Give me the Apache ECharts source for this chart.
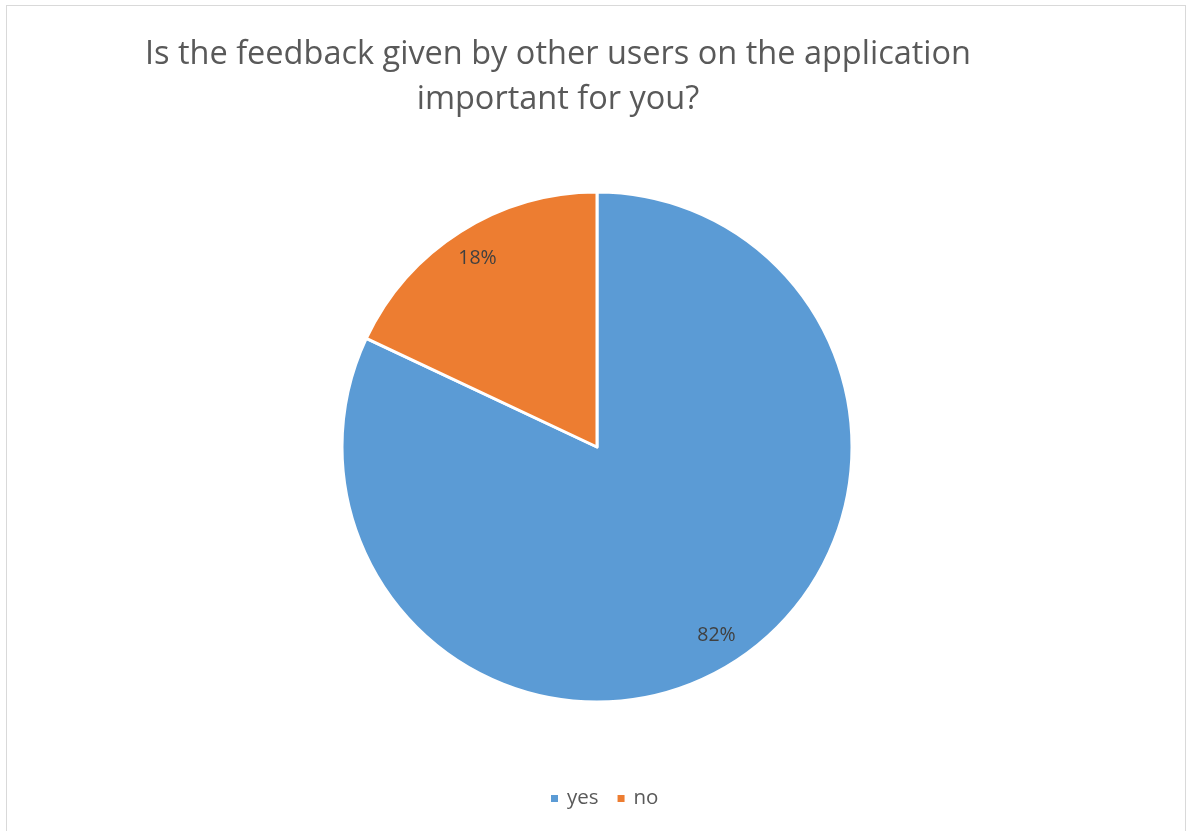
<!DOCTYPE html>
<html>
<head>
<meta charset="utf-8">
<script src="https://cdn.jsdelivr.net/npm/echarts@6/dist/echarts.min.js"></script>
<style>
  html, body { margin: 0; padding: 0; background: #fff; }
  #frame { position: absolute; left: 6px; top: 5px; width: 1180px; height: 840px;
           border: 1px solid #d9d9d9; box-sizing: border-box; }
  #chart { position: absolute; left: 0; top: 0; width: 1189px; height: 831px; }
</style>
</head>
<body>
<div id="frame"></div>
<div id="chart"></div>
<script>
// Survey answers
const categories = ['yes', 'no'];
const shares = [82, 18];
const colors = ['#5b9bd5', '#ed7d31'];
const titleText = 'Is the feedback given by other users on the application\nimportant for you?';

const pieData = categories.map((name, i) => ({ name, value: shares[i] }));

const chart = echarts.init(document.getElementById('chart'), null, { renderer: 'canvas' });
chart.setOption({
  animation: false,
  color: colors,
  title: {
    text: titleText,
    left: 553,
    top: 27,
    textAlign: 'center',
    textStyle: {
      fontFamily: 'Open Sans',
      fontSize: 32.5,
      fontWeight: 'normal',
      color: '#595959',
      lineHeight: 45
    }
  },
  legend: {
    data: categories,
    left: 544,
    top: 783,
    padding: 5,
    itemWidth: 9,
    itemHeight: 9,
    itemGap: 17,
    icon: 'rect',
    textStyle: { fontFamily: 'Open Sans', fontSize: 20.5, color: '#595959', padding: [0, 0, 0, 3] }
  },
  series: [
    {
      // the pie itself
      type: 'pie',
      center: [597, 447],
      radius: [0, 255],
      startAngle: 90,
      clockwise: true,
      data: pieData,
      label: { show: false },
      labelLine: { show: false },
      itemStyle: { borderColor: '#ffffff', borderWidth: 3 },
      emphasis: { disabled: true }
    },
    {
      // transparent ring used to place the percentage labels
      type: 'pie',
      center: [597, 447],
      radius: [185, 255],
      startAngle: 90,
      clockwise: true,
      silent: true,
      data: pieData,
      itemStyle: { color: 'rgba(0,0,0,0)', borderWidth: 0 },
      label: {
        show: true,
        position: 'inside',
        formatter: p => p.value + '%',
        fontFamily: 'Open Sans',
        fontSize: 19.5,
        color: '#404040'
      },
      labelLine: { show: false },
      emphasis: { disabled: true }
    }
  ]
});
</script>
</body>
</html>
